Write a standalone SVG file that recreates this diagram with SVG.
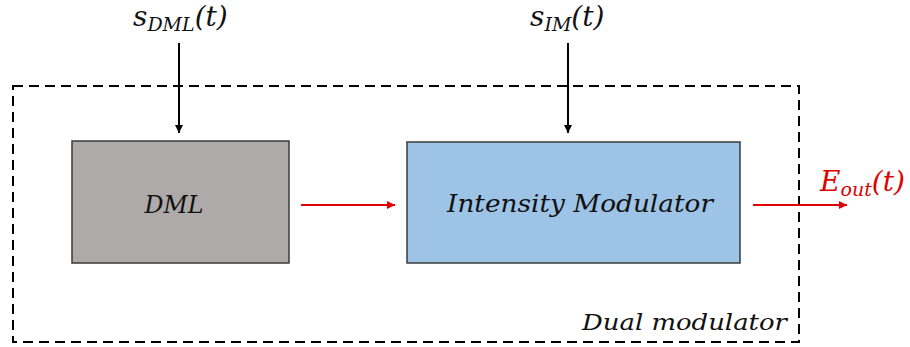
<svg xmlns="http://www.w3.org/2000/svg" width="910" height="347" viewBox="0 0 910 347">
  <style>
    .lbl { font-family: "DejaVu Serif", "Liberation Serif", serif; font-style: italic; fill: #111; }
    .sub { font-size: 19px; }
    .blk { stroke: #000; stroke-width: 2; fill: none; }
    .red { stroke: #e00000; stroke-width: 2; fill: none; }
  </style>
  <defs>
    <marker id="ahBlack" viewBox="0 0 10 10" refX="10" refY="5" markerWidth="8" markerHeight="8" markerUnits="userSpaceOnUse" orient="auto">
      <path d="M0,0 L10,5 L0,10 z" fill="#000"/>
    </marker>
    <marker id="ahRed" viewBox="0 0 10 10" refX="10" refY="5" markerWidth="8" markerHeight="8" markerUnits="userSpaceOnUse" orient="auto">
      <path d="M0,0 L10,5 L0,10 z" fill="#e00000"/>
    </marker>
  </defs>
  <rect width="910" height="347" fill="#fff"/>

  <!-- enclosing dual modulator boundary -->
  <g id="dual-modulator">
    <rect x="13" y="86" width="786" height="256" fill="none" stroke="#000" stroke-width="2" stroke-dasharray="10 6"/>
    <text class="lbl" x="787" y="330" font-size="22" text-anchor="end" textLength="205" lengthAdjust="spacingAndGlyphs">Dual modulator</text>
  </g>

  <g id="dml">
    <rect x="72" y="141" width="217" height="122" fill="#aeaaa9" stroke="#3a3a3a" stroke-width="1.5"/>
    <text class="lbl" x="174" y="213" font-size="24" text-anchor="middle" textLength="59" lengthAdjust="spacingAndGlyphs">DML</text>
  </g>

  <g id="intensity-modulator">
    <rect x="407" y="142" width="333" height="121" fill="#9dc3e6" stroke="#3a3a3a" stroke-width="1.5"/>
    <text class="lbl" x="580" y="212" font-size="24" text-anchor="middle" textLength="266" lengthAdjust="spacingAndGlyphs">Intensity Modulator</text>
  </g>

  <g id="s-dml-input">
    <text class="lbl" x="133" y="26" font-size="28">s<tspan class="sub" dy="5">DML</tspan><tspan dy="-5">(t)</tspan></text>
  </g>

  <g id="s-im-input">
    <text class="lbl" x="530" y="26" font-size="28">s<tspan class="sub" dy="5">IM</tspan><tspan dy="-5">(t)</tspan></text>
  </g>

  <g id="e-out-output">
    <text class="lbl" x="820" y="191" font-size="28" style="fill:#e00000">E<tspan class="sub" dy="5">out</tspan><tspan dy="-5">(t)</tspan></text>
  </g>

  <g id="connectors">
    <line class="blk" x1="179" y1="43" x2="179" y2="133" marker-end="url(#ahBlack)"/>
    <line class="blk" x1="568" y1="43" x2="568" y2="133" marker-end="url(#ahBlack)"/>
    <line class="red" x1="301" y1="205" x2="395" y2="205" marker-end="url(#ahRed)"/>
    <line class="red" x1="753" y1="205" x2="847" y2="205" marker-end="url(#ahRed)"/>
  </g>
</svg>
